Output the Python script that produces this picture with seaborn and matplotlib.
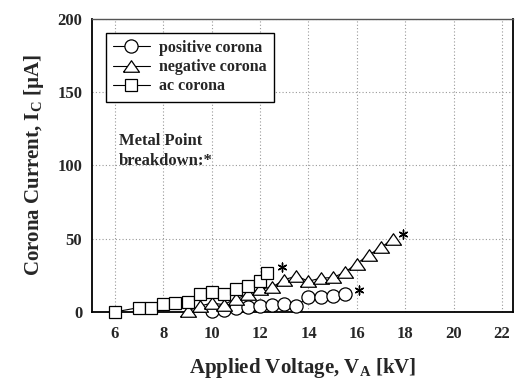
import numpy as np
import pandas as pd
import seaborn as sns
from matplotlib import pyplot as plt

# positive corona
pos_kv = [10.0, 10.5, 11.0, 11.5, 12.0, 12.5, 13.0, 13.5, 14.0, 14.5, 15.0, 15.5]
pos_ua = [0.3, 1.0, 3.0, 3.5, 4.0, 5.0, 5.5, 4.0, 10.5, 10.0, 11.0, 12.0]

# negative corona
neg_kv = [9.0, 9.5, 10.0, 10.5, 11.0, 11.5, 12.0, 12.5, 13.0, 13.5, 14.0, 14.5,
          15.0, 15.5, 16.0, 16.5, 17.0, 17.5]
neg_ua = [0.5, 4.0, 6.0, 5.0, 9.0, 12.0, 15.5, 17.0, 22.0, 24.5, 21.0, 23.0,
          23.5, 27.0, 33.0, 39.0, 44.0, 50.0]

# ac corona
ac_kv = [6.0, 7.0, 7.5, 8.0, 8.5, 9.0, 9.5, 10.0, 10.5, 11.0, 11.5, 12.0, 12.3]
ac_ua = [0.0, 3.0, 2.5, 5.5, 6.0, 7.0, 12.5, 13.5, 12.0, 15.5, 18.0, 21.0, 26.5]

# breakdown points (*)
star_kv = [16.1, 17.9, 12.9]
star_ua = [15.0, 53.5, 31.0]

# flat open triangle like the original
tri = [(-1, -0.72), (1, -0.72), (0, 0.72), (-1, -0.72)]

series = [("positive corona", pos_kv, pos_ua, "o", 9.5),
          ("negative corona", neg_kv, neg_ua, tri, 11.5),
          ("ac corona", ac_kv, ac_ua, "s", 8.8)]

sns.set_style("white")
plt.rcParams['font.family'] = ['Liberation Serif', 'DejaVu Serif']
plt.rcParams['font.weight'] = 'bold'
plt.rcParams['mathtext.fontset'] = 'custom'
plt.rcParams['mathtext.bf'] = 'Liberation Serif:bold'
plt.rcParams['mathtext.rm'] = 'Liberation Serif:bold'
plt.rcParams['mathtext.default'] = 'bf'

fig = plt.figure(figsize=(5.17, 3.79), dpi=100)
ax = fig.add_axes([0.178, 0.177, 0.814, 0.773])

for name, xs, ys, m, ms in series:
    df = pd.DataFrame({"kv": xs, "ua": ys})
    sns.lineplot(data=df, x="kv", y="ua", ax=ax, color="black", lw=0.8,
                 marker=m, markersize=ms,
                 markerfacecolor="white", markeredgecolor="black",
                 markeredgewidth=0.9, label=name, clip_on=False, zorder=3)

ax.scatter(star_kv, star_ua, marker=(6, 2, 0), s=40, color="black", lw=1.0, zorder=4)

ax.set_xlim(5.05, 22.45)
ax.set_ylim(0, 200)
ax.set_xticks(np.arange(6, 23, 2))
ax.set_yticks(np.arange(0, 201, 50))
ax.grid(True, color="#999999", ls=(0, (1, 2)), lw=0.8)
ax.tick_params(axis="x", direction="in", length=3, labelsize=12, pad=10)
ax.tick_params(axis="y", direction="out", length=3, labelsize=12, pad=4)
for lab in ax.get_xticklabels() + ax.get_yticklabels():
    lab.set_fontweight("bold")

for side in ["left", "bottom", "right"]:
    ax.spines[side].set_color("black")
    ax.spines[side].set_linewidth(1.3)
ax.spines["top"].set_color("#555555")
ax.spines["top"].set_linewidth(1.0)

ax.set_xlabel("Applied Voltage, V$_A$ [kV]", fontsize=15, fontweight="bold", labelpad=10)
ax.set_ylabel("Corona Current, I$_C$ [\u00b5A]", fontsize=15, fontweight="bold", labelpad=8)

leg = ax.legend(loc="upper left", bbox_to_anchor=(0.014, 0.98), fancybox=False,
                edgecolor="black", framealpha=1, fontsize=11.5, handlelength=2.3,
                borderpad=0.45, labelspacing=0.2, handletextpad=0.6)
leg.get_frame().set_linewidth(1.0)
for t in leg.get_texts():
    t.set_fontweight("bold")

ax.text(6.15, 122, "Metal Point\nbreakdown:*", fontsize=12, fontweight="bold",
        va="top", ha="left", linespacing=1.3)

plt.savefig("out.png", dpi=100)
